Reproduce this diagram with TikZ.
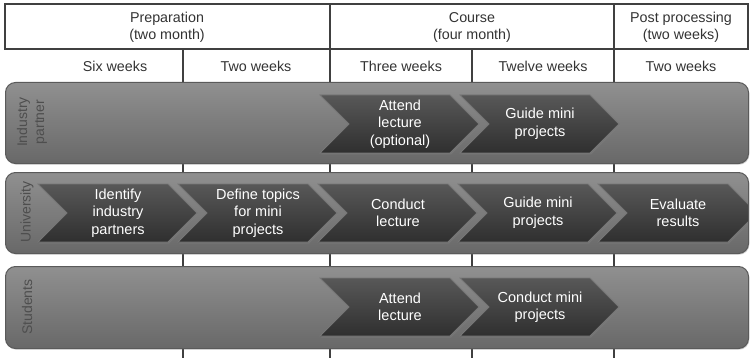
\documentclass[tikz,border=0pt]{standalone}
\usepackage{fontspec}
\setmainfont{Liberation Sans}
\usetikzlibrary{shadows}
\definecolor{gridline}{HTML}{404040}
\definecolor{hdrtext}{HTML}{333333}
\definecolor{laneTop}{HTML}{909090}
\definecolor{laneBot}{HTML}{686868}
\definecolor{laneEdge}{HTML}{5A5A5A}
\definecolor{laneText}{HTML}{4E4E4E}
\definecolor{chevTop}{HTML}{585858}
\definecolor{chevBot}{HTML}{2F2F2F}
\definecolor{chevEdge}{HTML}{767676}
\newcommand\chevshape[4]{%
  \draw[chevbody] (#2,#3-29) -- ++(130,0) -- ++(29,29) -- ++(-29,29) -- ++(-130,0) -- ++(29,-29) -- cycle;
  \node[chevtext] (#1) at (#2+80,#3) {#4};
}
\begin{document}
\begin{tikzpicture}[x=1pt,y=-1pt,
  hdr/.style={font=\fontsize{14.3}{17}\selectfont, text=hdrtext, align=center, inner sep=0pt},
  gline/.style={draw=gridline, line width=1.8pt},
  lane/.style={rounded corners=10pt, draw=laneEdge, line width=1pt, top color=laneTop, bottom color=laneBot,
     drop shadow={shadow xshift=0.8pt, shadow yshift=-1.2pt, opacity=0.35}},
  lanelabel/.style={rotate=90, font=\fontsize{14}{17}\selectfont, text=laneText, align=center, inner sep=0pt},
  chevbody/.style={draw=chevEdge, line width=0.8pt, top color=chevTop, bottom color=chevBot,
     drop shadow={shadow xshift=1pt, shadow yshift=-1.5pt, opacity=0.45}},
  chevtext/.style={text=white, align=center, font=\fontsize{14.5}{17.5}\selectfont, inner sep=0pt}]
\useasboundingbox (0,0) rectangle (751,358);
% grid lines
\coordinate (g1t) at (183,49);  \coordinate (g1b) at (183,358);
\coordinate (g2t) at (330,4);   \coordinate (g2b) at (330,358);
\coordinate (g3t) at (472,49);  \coordinate (g3b) at (472,358);
\coordinate (g4t) at (614,4);   \coordinate (g4b) at (614,358);
\coordinate (hl) at (5,4); \coordinate (hr) at (748,49);
\draw[gline] (g1t) -- (g1b);
\draw[gline] (g2t) -- (g2b);
\draw[gline] (g3t) -- (g3b);
\draw[gline] (g4t) -- (g4b);
\draw[gline] (hl) rectangle (hr);
% header texts
\node[hdr] (hprep) at (167,27) {Preparation\\(two month)};
\node[hdr] (hcourse) at (472,27) {Course\\(four month)};
\node[hdr] (hpost) at (681,27) {Post processing\\(two weeks)};
\node[hdr] (w1) at (115,66) {Six weeks};
\node[hdr] (w2) at (256,66) {Two weeks};
\node[hdr] (w3) at (401,66) {Three weeks};
\node[hdr] (w4) at (543,66) {Twelve weeks};
\node[hdr] (w5) at (681,66) {Two weeks};
% lanes
\node[lane, anchor=north west, minimum width=743pt, minimum height=81pt] (L1) at (5,82) {};
\node[lane, anchor=north west, minimum width=743pt, minimum height=81pt] (L2) at (5,172) {};
\node[lane, anchor=north west, minimum width=743pt, minimum height=82pt] (L3) at (5,266) {};
\node[lanelabel] (lab1) at (32,122) {Industry\\partner};
\node[lanelabel] (lab2) at (27,212) {University};
\node[lanelabel] (lab3) at (27,307) {Students};
% industry partner
\chevshape{i1}{320}{124}{Attend\\lecture\\(optional)}
\chevshape{i2}{460}{124}{Guide mini\\projects}
% university
\begin{scope}
\clip[rounded corners=10pt] (5,172) rectangle (748,253);
\chevshape{u1}{38}{213}{Identify\\industry\\partners}
\chevshape{u2}{178}{213}{Define topics\\for mini\\projects}
\chevshape{u3}{318}{213}{Conduct\\lecture}
\chevshape{u4}{458}{213}{Guide mini\\projects}
\chevshape{u5}{598}{213}{Evaluate\\results}
\end{scope}
% students
\chevshape{s1}{320}{307}{Attend\\lecture}
\chevshape{s2}{460}{307}{Conduct mini\\projects}
\end{tikzpicture}
\end{document}
